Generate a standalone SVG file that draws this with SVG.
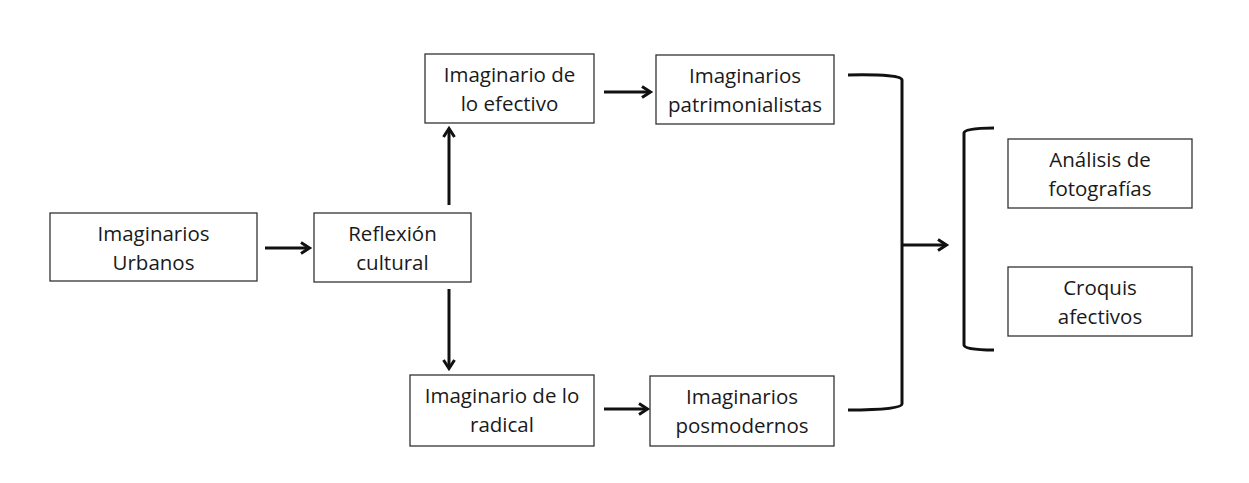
<svg xmlns="http://www.w3.org/2000/svg" width="1249" height="483" viewBox="0 0 1249 483">
<style>
.box{fill:#fff;stroke:#333;stroke-width:1.3}
.t{font-family:"Open Sans","Liberation Sans",sans-serif;font-size:20.5px;fill:#1a1a1a;text-anchor:middle}
.ln{fill:none;stroke:#111;stroke-width:3}
</style>
<defs>
<marker id="ah" markerWidth="14" markerHeight="14" refX="10" refY="7" orient="auto" markerUnits="userSpaceOnUse">
<path d="M2,1.5 L10.5,7 L2,12.5" fill="none" stroke="#111" stroke-width="3"/>
</marker>
</defs>
<rect width="1249" height="483" fill="#fff"/>
<g id="connectors">
<line class="ln" x1="265" y1="248" x2="309" y2="248" marker-end="url(#ah)"/>
<line class="ln" x1="449" y1="205" x2="449" y2="129" marker-end="url(#ah)"/>
<line class="ln" x1="449" y1="289" x2="449" y2="368" marker-end="url(#ah)"/>
<line class="ln" x1="604" y1="92" x2="650" y2="92" marker-end="url(#ah)"/>
<line class="ln" x1="604" y1="409" x2="647" y2="409" marker-end="url(#ah)"/>
<path class="ln" d="M848,75 Q902,74 902,80 L902,404 Q902,410 848,410"/>
<line class="ln" x1="902" y1="245" x2="946" y2="245" marker-end="url(#ah)"/>
<path class="ln" d="M994,128 Q964,128 964,133 L964,345 Q964,350 994,350"/>
</g>
<g id="n1"><rect class="box" x="50" y="213" width="207" height="68"/><text class="t" x="153.5" y="241">Imaginarios</text><text class="t" x="153.5" y="270">Urbanos</text></g>
<g id="n2"><rect class="box" x="314" y="213" width="157" height="69"/><text class="t" x="392.5" y="241">Reflexión</text><text class="t" x="392.5" y="270">cultural</text></g>
<g id="n3"><rect class="box" x="425" y="54" width="169" height="69"/><text class="t" x="509.5" y="82">Imaginario de</text><text class="t" x="509.5" y="111">lo efectivo</text></g>
<g id="n4"><rect class="box" x="656" y="55" width="178" height="69"/><text class="t" x="745" y="83">Imaginarios</text><text class="t" x="745" y="112">patrimonialistas</text></g>
<g id="n5"><rect class="box" x="410" y="375" width="184" height="71"/><text class="t" x="502" y="403">Imaginario de lo</text><text class="t" x="502" y="432">radical</text></g>
<g id="n6"><rect class="box" x="650" y="376" width="184" height="70"/><text class="t" x="742" y="404">Imaginarios</text><text class="t" x="742" y="433">posmodernos</text></g>
<g id="n7"><rect class="box" x="1008" y="139" width="184" height="69"/><text class="t" x="1100" y="167">Análisis de</text><text class="t" x="1100" y="196">fotografías</text></g>
<g id="n8"><rect class="box" x="1008" y="267" width="184" height="69"/><text class="t" x="1100" y="295">Croquis</text><text class="t" x="1100" y="324">afectivos</text></g>
</svg>
